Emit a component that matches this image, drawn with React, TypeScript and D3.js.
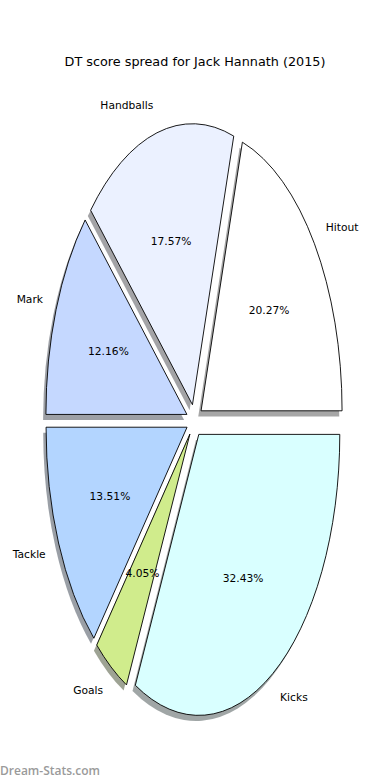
import * as d3 from 'd3'

const labels = ['Hitout', 'Handballs', 'Mark', 'Tackle', 'Goals', 'Kicks']
const counts = [15, 13, 9, 10, 3, 24]
const colors = ['#ffffff', '#ebf1ff', '#c5d8ff', '#b3d5ff', '#d0ec8c', '#d9ffff']

const W = 390, H = 780
const cx = 194.5, cy = 420.5, rx = 141, ry = 281
const explode = 0.058
const font = 'DejaVu Sans, sans-serif'

// data units (-1..1) -> pixels, y flipped like matplotlib
const x = d3.scaleLinear().domain([-1, 1]).range([cx - rx, cx + rx])
const y = d3.scaleLinear().domain([-1, 1]).range([cy + ry, cy - ry])

// counterclockwise from 3 o'clock, like matplotlib's default pie
const pie = d3.pie<number>().sort(null).startAngle(Math.PI / 2).endAngle(Math.PI / 2 - 2 * Math.PI)
const arcs = pie(counts)
const arc = d3.arc<d3.PieArcDatum<number>>().innerRadius(0).outerRadius(1)
const total = d3.sum(counts)

const shade = (c: string) => {
  const rgb = d3.rgb(c)
  return d3.rgb(rgb.r * 0.3, rgb.g * 0.3, rgb.b * 0.3).formatHex()
}

export default function App() {
  const slices = arcs.map((a, i) => {
    const mid = (a.startAngle + a.endAngle) / 2
    const dx = Math.sin(mid), dy = Math.cos(mid) // unit direction in data space (dy up)
    const ox = explode * dx, oy = explode * dy
    const lx = ox + 1.1 * dx, ly = oy + 1.1 * dy
    const px = ox + 0.6 * dx, py = oy + 0.6 * dy
    return { a, i, ox, oy, lx, ly, px, py }
  })

  return (
    <svg width={W} height={H} style={{ position: 'absolute', left: 0, top: 0 }}>
      <rect width={W} height={H} fill="#fff" />
      <text x={195} y={66} textAnchor="middle" fontFamily={font} fontSize={12.8} fill="#000">
        DT score spread for Jack Hannath (2015)
      </text>

      <g transform={`translate(${cx},${cy}) scale(${rx},${ry})`}>
        {slices.map(s => (
          <path
            key={'s' + s.i}
            d={arc(s.a) ?? ''}
            transform={`translate(${s.ox - 0.02},${-s.oy + 0.02})`}
            fill={shade(colors[s.i])}
            fillOpacity={0.5}
          />
        ))}
        {slices.map(s => (
          <path
            key={'w' + s.i}
            d={arc(s.a) ?? ''}
            transform={`translate(${s.ox},${-s.oy})`}
            fill={colors[s.i]}
            stroke="#000"
            strokeWidth={0.9}
            strokeLinejoin="miter"
            vectorEffect="non-scaling-stroke"
          />
        ))}
      </g>

      {slices.map(s => (
        <g key={'t' + s.i} fontFamily={font} fontSize={10.7} fill="#000">
          <text x={x(s.lx)} y={y(s.ly)} dy="0.35em" textAnchor={s.lx > 0 ? 'start' : 'end'}>
            {labels[s.i]}
          </text>
          <text x={x(s.px)} y={y(s.py)} dy="0.35em" textAnchor="middle">
            {((counts[s.i] / total) * 100).toFixed(2)}%
          </text>
        </g>
      ))}

      <text x={0} y={775} fontFamily="Open Sans, sans-serif" fontWeight={600} fontSize={12} fill="#9a9a9a">
        Dream-Stats.com
      </text>
    </svg>
  )
}
